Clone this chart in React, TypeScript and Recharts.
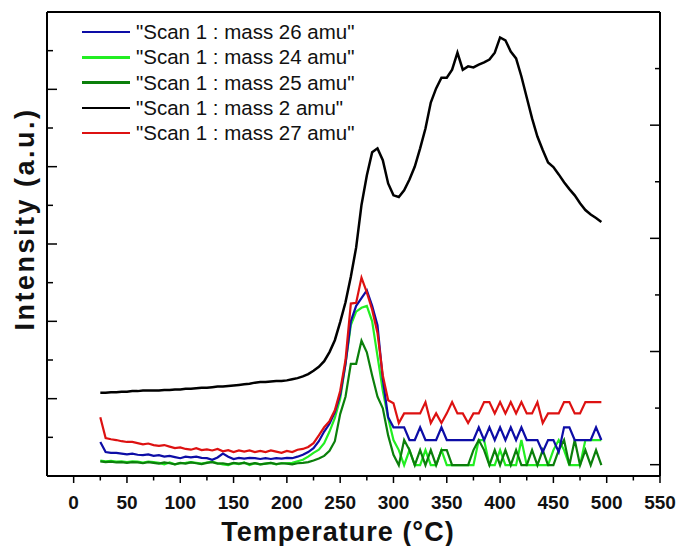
import { LineChart, Line, XAxis, YAxis, ReferenceLine } from 'recharts'

// temperature axis (°C), one reading every 5 degrees
const temps = [
  25, 30, 35, 40, 45, 50, 55, 60, 65, 70, 75, 80, 85, 90, 95, 100,
  105, 110, 115, 120, 125, 130, 135, 140, 145, 150, 155, 160, 165, 170, 175, 180, 185, 190, 195, 200,
  205, 210, 215, 220, 225, 230, 235, 240, 245, 250, 255, 260, 265, 270, 275, 280, 285, 290, 295, 300,
  305, 310, 315, 320, 325, 330, 335, 340, 345, 350, 355, 360, 365, 370, 375, 380, 385, 390, 395, 400,
  405, 410, 415, 420, 425, 430, 435, 440, 445, 450, 455, 460, 465, 470, 475, 480, 485, 490, 495,
]

// mass 2 is read against the right-hand scale, the rest against the left one
const mass2 = [
  1.27, 1.27, 1.28, 1.28, 1.29, 1.29, 1.30, 1.30, 1.31, 1.31, 1.31, 1.31, 1.32, 1.32, 1.33, 1.33,
  1.34, 1.34, 1.35, 1.36, 1.36, 1.37, 1.38, 1.38, 1.39, 1.40, 1.41, 1.42, 1.43, 1.45, 1.46, 1.46, 1.47, 1.48, 1.48, 1.49,
  1.51, 1.53, 1.56, 1.60, 1.66, 1.73, 1.83, 1.99, 2.20, 2.52, 2.87, 3.32, 3.84, 4.59, 5.11, 5.52, 5.59, 5.38, 4.97, 4.76,
  4.73, 4.85, 5.04, 5.27, 5.59, 5.94, 6.40, 6.65, 6.84, 6.84, 6.98, 7.28, 6.98, 7.04, 7.02, 7.07, 7.11, 7.16, 7.28, 7.55,
  7.50, 7.30, 7.18, 6.86, 6.49, 6.12, 5.80, 5.56, 5.34, 5.26, 5.13, 4.99, 4.87, 4.76, 4.62, 4.50, 4.42, 4.36, 4.29,
]

const mass27 = [
  1.52, 0.98, 0.95, 0.93, 0.9, 0.88, 0.88, 0.85, 0.82, 0.84, 0.8, 0.78, 0.8, 0.76, 0.72, 0.74,
  0.7, 0.68, 0.72, 0.67, 0.69, 0.66, 0.7, 0.64, 0.67, 0.62, 0.66, 0.63, 0.66, 0.62, 0.65, 0.62, 0.66, 0.63, 0.6, 0.65,
  0.62, 0.68, 0.7, 0.75, 0.85, 1.05, 1.26, 1.42, 1.7, 2.2, 3.0, 4.46, 4.48, 5.13, 4.75, 4.3, 3.7, 2.6, 1.96, 1.88,
  1.37, 1.62, 1.62, 1.62, 1.62, 1.91, 1.37, 1.62, 1.37, 1.62, 1.91, 1.62, 1.62, 1.37, 1.62, 1.62, 1.91, 1.91, 1.62, 1.91,
  1.62, 1.91, 1.62, 1.91, 1.62, 1.62, 1.91, 1.37, 1.62, 1.62, 1.62, 1.91, 1.91, 1.62, 1.62, 1.91, 1.91, 1.91, 1.91,
]

const mass26 = [
  0.88, 0.62, 0.6, 0.6, 0.58, 0.56, 0.58, 0.55, 0.54, 0.56, 0.52, 0.54, 0.5, 0.52, 0.49, 0.46,
  0.5, 0.48, 0.5, 0.47, 0.46, 0.42, 0.48, 0.58, 0.5, 0.44, 0.47, 0.45, 0.47, 0.46, 0.44, 0.46, 0.44, 0.46, 0.45, 0.47,
  0.46, 0.5, 0.55, 0.62, 0.72, 0.9, 1.15, 1.35, 1.65, 2.1, 2.9, 4.0, 4.4, 4.6, 4.8, 4.4, 3.9, 2.5, 1.52, 1.26,
  1.26, 1.26, 0.93, 0.93, 1.26, 0.93, 0.93, 0.93, 1.26, 0.93, 0.93, 0.93, 0.93, 0.93, 0.93, 1.26, 0.93, 1.26, 0.93, 1.26,
  0.93, 1.26, 0.93, 1.26, 0.93, 0.93, 0.93, 0.62, 0.93, 0.93, 0.62, 1.26, 1.26, 0.93, 0.93, 0.93, 0.93, 1.26, 0.93,
]

const mass24 = [
  0.4, 0.38, 0.39, 0.37, 0.38, 0.36, 0.38, 0.37, 0.35, 0.37, 0.36, 0.34, 0.3, 0.35, 0.3, 0.33,
  0.34, 0.36, 0.34, 0.32, 0.35, 0.37, 0.33, 0.3, 0.28, 0.33, 0.31, 0.35, 0.28, 0.33, 0.3, 0.32, 0.34, 0.3, 0.33, 0.33,
  0.34, 0.38, 0.42, 0.5, 0.6, 0.68, 0.85, 1.15, 1.5, 2.0, 2.9, 3.9, 4.25, 4.35, 4.4, 4.0, 3.1, 2.2, 1.5, 0.93,
  0.67, 0.28, 0.67, 0.28, 0.28, 0.67, 0.28, 0.28, 0.67, 0.28, 0.28, 0.28, 0.28, 0.28, 0.28, 0.93, 0.93, 0.28, 0.28, 0.67,
  0.28, 0.28, 0.28, 0.93, 0.28, 0.28, 0.28, 0.28, 0.28, 0.67, 0.93, 0.67, 0.28, 0.28, 0.28, 0.93, 0.93, 0.93, 0.93,
]

const mass25 = [
  0.38, 0.36, 0.37, 0.35, 0.36, 0.34, 0.36, 0.35, 0.33, 0.36, 0.34, 0.32, 0.35, 0.33, 0.3, 0.34,
  0.32, 0.35, 0.33, 0.31, 0.34, 0.36, 0.32, 0.33, 0.3, 0.34, 0.32, 0.34, 0.31, 0.33, 0.3, 0.32, 0.34, 0.31, 0.33, 0.32,
  0.3, 0.33, 0.34, 0.36, 0.4, 0.45, 0.52, 0.65, 0.9, 1.6, 2.05, 2.9, 2.9, 3.5, 3.2, 2.6, 2.05, 1.75, 1.05, 0.55,
  0.28, 0.93, 0.67, 0.28, 0.67, 0.28, 0.67, 0.28, 0.67, 0.67, 0.28, 0.28, 0.28, 0.28, 0.67, 0.93, 0.67, 0.28, 0.67, 0.28,
  0.67, 0.28, 0.67, 0.28, 0.28, 0.67, 0.28, 0.67, 0.28, 0.28, 0.67, 0.93, 0.28, 0.93, 0.28, 0.67, 0.28, 0.67, 0.28,
]

const xTicks = [0, 25, 50, 75, 100, 125, 150, 175, 200, 225, 250, 275, 300, 325, 350, 375, 400, 425, 450, 475, 500, 525, 550]
const leftTicks = [1, 2, 3, 4, 5, 6, 7, 8, 9, 10, 11]
const rightTicks = [0, 1, 2, 3, 4, 5, 6, 7]

const legendOrder = [
  { key: 'mass26', name: '"Scan 1 : mass 26 amu"', color: '#0d0da6' },
  { key: 'mass24', name: '"Scan 1 : mass 24 amu"', color: '#22ee22' },
  { key: 'mass25', name: '"Scan 1 : mass 25 amu"', color: '#0b7f0b' },
  { key: 'mass2', name: '"Scan 1 : mass 2 amu"', color: '#000000' },
  { key: 'mass27', name: '"Scan 1 : mass 27 amu"', color: '#dd1111' },
]

const chartData = temps.map((t, i) => ({
  t,
  mass2: mass2[i],
  mass24: mass24[i],
  mass25: mass25[i],
  mass26: mass26[i],
  mass27: mass27[i],
}))

const FONT = '"Liberation Sans", Arial, sans-serif'

function XTick({ x, y, payload }: any) {
  const major = payload.value % 50 === 0
  return (
    <g>
      <line x1={x} x2={x} y1={y} y2={y + (major ? 7 : 4.5)} stroke='#000' strokeWidth={1.5} />
      {major && (
        <text x={x} y={y + 33} textAnchor='middle' fontSize={19} fontWeight='bold' fontFamily={FONT} fill='#111'>
          {payload.value}
        </text>
      )}
    </g>
  )
}

function LeftTick({ x, y, payload }: any) {
  const len = payload.value % 2 === 0 ? 10 : 6
  return <line x1={x} x2={x + len} y1={y} y2={y} stroke='#000' strokeWidth={1.5} />
}

function RightTick({ x, y, payload }: any) {
  const len = payload.value % 2 === 0 ? 10 : 5
  return <line x1={x} x2={x - len} y1={y} y2={y} stroke='#000' strokeWidth={1.5} />
}

export default function App() {
  return (
    <div style={{ position: 'absolute', left: 0, top: 0, width: 679, height: 546, background: '#fff', fontFamily: FONT }}>
      <LineChart width={679} height={546} data={chartData} margin={{ top: 12, right: 18, bottom: 40, left: 0 }}>
        <XAxis
          dataKey='t'
          type='number'
          domain={[-25, 550]}
          ticks={xTicks}
          interval={0}
          height={30}
          tickSize={0}
          tickMargin={0}
          tickLine={false}
          tick={<XTick />}
          axisLine={{ stroke: '#000', strokeWidth: 2 }}
        />
        <YAxis
          yAxisId='left'
          type='number'
          domain={[0, 12]}
          ticks={leftTicks}
          interval={0}
          width={47}
          tickSize={0}
          tickMargin={0}
          tickLine={false}
          tick={<LeftTick />}
          axisLine={{ stroke: '#000', strokeWidth: 2 }}
        />
        <YAxis
          yAxisId='right'
          orientation='right'
          type='number'
          domain={[-0.2, 8]}
          ticks={rightTicks}
          interval={0}
          width={1}
          tickSize={0}
          tickMargin={0}
          tickLine={false}
          tick={<RightTick />}
          axisLine={{ stroke: '#000', strokeWidth: 2 }}
        />
        <ReferenceLine yAxisId='left' y={12} stroke='#000' strokeWidth={2} />

        <Line yAxisId='right' dataKey='mass2' stroke='#000' strokeWidth={2.5} dot={false} type='linear' isAnimationActive={false} />
        <Line yAxisId='left' dataKey='mass24' stroke='#22ee22' strokeWidth={2.2} dot={false} type='linear' isAnimationActive={false} />
        <Line yAxisId='left' dataKey='mass25' stroke='#0b7f0b' strokeWidth={2.2} dot={false} type='linear' isAnimationActive={false} />
        <Line yAxisId='left' dataKey='mass26' stroke='#0d0da6' strokeWidth={2.2} dot={false} type='linear' isAnimationActive={false} />
        <Line yAxisId='left' dataKey='mass27' stroke='#dd1111' strokeWidth={2.2} dot={false} type='linear' isAnimationActive={false} />
      </LineChart>

      {/* legend, top-left inside the frame */}
      {legendOrder.map((s, i) => (
        <div key={s.key} style={{ position: 'absolute', left: 82, top: 32 + i * 25.3, transform: 'translateY(-50%)', display: 'flex', alignItems: 'center' }}>
          <div style={{ width: 48, height: 2.5, background: s.color }} />
          <span style={{ marginLeft: 6, fontSize: 20.5, color: '#111', whiteSpace: 'nowrap' }}>{s.name}</span>
        </div>
      ))}

      <div style={{ position: 'absolute', left: 338, top: 532, transform: 'translate(-50%, -50%)', fontSize: 27, letterSpacing: 1, fontWeight: 'bold', color: '#111', whiteSpace: 'nowrap' }}>
        Temperature (°C)
      </div>
      <div style={{ position: 'absolute', left: 25, top: 219, transform: 'translate(-50%, -50%) rotate(-90deg)', fontSize: 27, letterSpacing: 2.5, fontWeight: 'bold', color: '#111', whiteSpace: 'nowrap' }}>
        Intensity (a.u.)
      </div>
    </div>
  )
}
